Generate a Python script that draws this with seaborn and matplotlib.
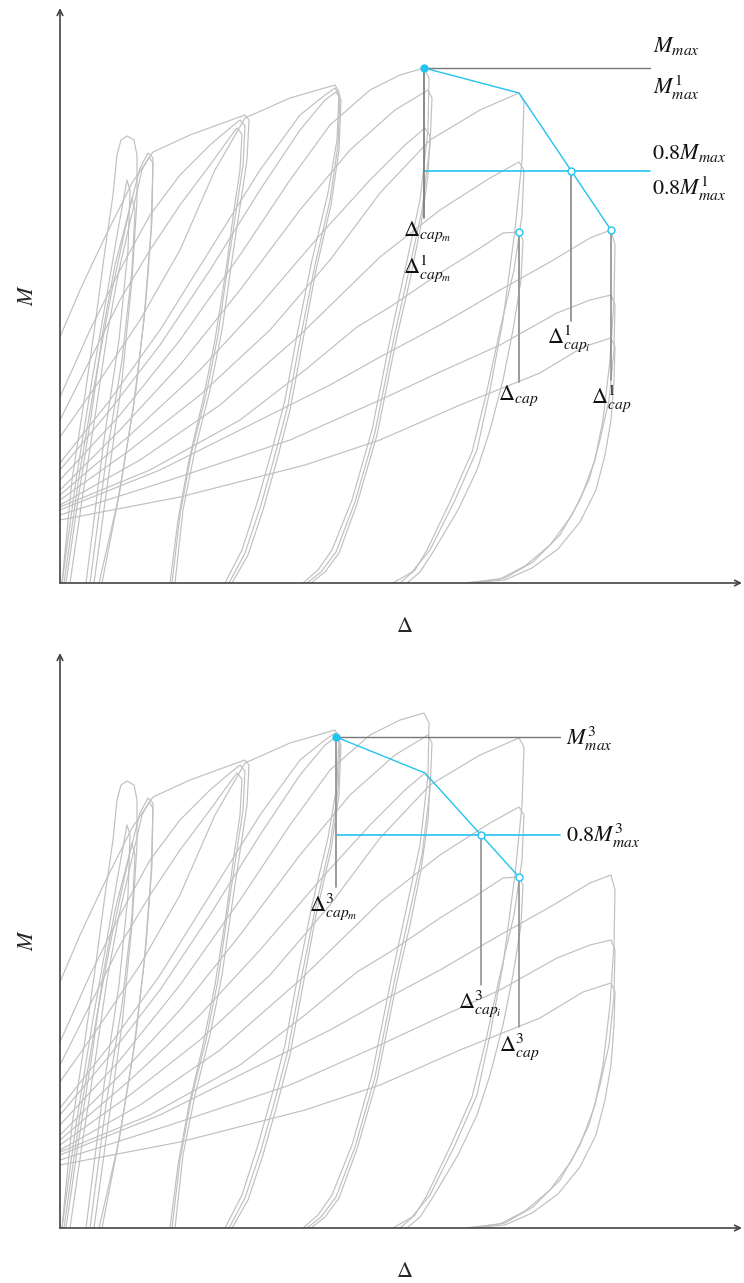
import pandas as pd
import seaborn as sns
import matplotlib.pyplot as plt

# hysteresis loops: (delta, M) pairs, reload branch then unload branch
loop_a1 = [(2, 0), (12, 103), (25, 188), (35, 258), (45, 333), (53, 388), (57, 428), (61, 443), (67, 447),
           (74, 443), (77, 428), (77, 383), (72, 303), (62, 203), (48, 103), (34, 0)]
loop_a2 = [(6, 0), (18, 83), (32, 173), (43, 253), (55, 318), (68, 368), (80, 415), (88, 430),
           (93, 425), (92, 363), (86, 283), (76, 193), (60, 93), (42, 0)]
loop_a3 = [(10, 0), (22, 83), (36, 173), (47, 248), (59, 313), (71, 365), (82, 413), (89, 426),
           (93, 420), (91, 353), (84, 263), (73, 173), (58, 83), (39, 0)]
loop_a4 = [(2, 0), (16, 103), (32, 203), (46, 283), (58, 353), (67, 403),
           (70, 393), (68, 333), (59, 243), (44, 143), (26, 0)]
loop_a5 = [(4, 0), (20, 113), (37, 213), (52, 293), (65, 353), (72, 385),
           (75, 373), (72, 313), (62, 223), (46, 123), (30, 0)]
loop_b1 = [(0, 246), (20, 293), (45, 346), (72, 400), (93, 431), (130, 448), (160, 459), (185, 468),
           (189, 463), (187, 423), (181, 383), (172, 323), (162, 253), (150, 193), (135, 133), (123, 73), (115, 0)]
loop_b2 = [(0, 186), (30, 253), (60, 313), (90, 368), (120, 408), (150, 438), (170, 455), (180, 463),
           (185, 457), (183, 418), (177, 378), (168, 318), (158, 248), (146, 188), (131, 128), (120, 68), (112, 0)]
loop_b3 = [(0, 163), (30, 223), (60, 283), (90, 333), (120, 378), (150, 418), (168, 443), (177, 455),
           (182, 449), (180, 413), (174, 373), (166, 313), (155, 243), (143, 183), (129, 123), (118, 63), (110, 0)]
loop_c1 = [(0, 146), (40, 203), (80, 263), (120, 333), (155, 413), (185, 465), (230, 485), (275, 498),
           (279, 491), (277, 443), (268, 390), (252, 323), (238, 253), (225, 183), (212, 133), (198, 83), (182, 33), (165, 0)]
loop_c2 = [(0, 120), (50, 183), (100, 253), (150, 333), (200, 413), (240, 468), (265, 488), (275, 495),
           (280, 487), (278, 438), (270, 383), (255, 318), (241, 248), (228, 178), (215, 128), (201, 78), (185, 30), (169, 0)]
loop_c3 = [(0, 113), (50, 173), (100, 238), (150, 313), (200, 393), (240, 453), (265, 483), (276, 491),
           (281, 483), (279, 433), (271, 378), (256, 313), (243, 243), (230, 173), (217, 123), (203, 73), (188, 28), (172, 0)]
loop_d1 = [(0, 103), (60, 168), (120, 243), (180, 328), (230, 403), (270, 458), (310, 493), (340, 508), (364, 515),
           (369, 505), (368, 453), (360, 383), (345, 313), (332, 253), (312, 153), (292, 83), (272, 33), (258, 13), (243, 0)]
loop_d2 = [(0, 93), (60, 153), (120, 218), (180, 293), (240, 373), (290, 433), (335, 473), (368, 493),
           (372, 485), (370, 438), (362, 373), (348, 308), (335, 250), (315, 151), (295, 81), (276, 31), (261, 11), (247, 0)]
loop_d3 = [(0, 88), (70, 148), (140, 213), (200, 278), (260, 348), (310, 403), (345, 438), (365, 455),
           (370, 447), (368, 408), (361, 358), (350, 303), (337, 247), (317, 148), (297, 79), (279, 30), (265, 11), (251, 0)]
loop_e1 = [(0, 83), (70, 133), (140, 188), (210, 253), (270, 323), (320, 390), (370, 443), (420, 473), (459, 490),
           (464, 481), (462, 423), (455, 353), (443, 263), (430, 193), (417, 133), (395, 83), (370, 33), (352, 11), (333, 0)]
loop_e2 = [(0, 78), (80, 123), (160, 178), (240, 248), (320, 326), (380, 373), (430, 405), (459, 421),
           (464, 413), (462, 368), (454, 313), (440, 253), (426, 188), (412, 131), (390, 81), (367, 33), (355, 13), (340, 0)]
loop_e3 = [(0, 76), (90, 113), (180, 163), (245, 213), (297, 256), (330, 276), (380, 310), (417, 333), (443, 350), (459, 351),
           (463, 343), (461, 303), (453, 253), (443, 203), (430, 153), (417, 113), (398, 73), (373, 31), (360, 11), (347, 0)]
loop_f1 = [(0, 73), (100, 113), (200, 163), (270, 198), (320, 226), (380, 258), (440, 293), (490, 321), (530, 345), (551, 353),
           (555, 338), (554, 283), (550, 223), (543, 163), (535, 123), (520, 83), (500, 48), (473, 21), (445, 5), (410, 0)]
loop_f2 = [(0, 68), (110, 103), (230, 143), (320, 183), (380, 211), (440, 238), (497, 270), (530, 283), (551, 288),
           (555, 278), (554, 233), (549, 183), (540, 143), (529, 103), (512, 68), (490, 38), (465, 17), (440, 4), (405, 0)]
loop_f3 = [(0, 63), (120, 86), (245, 118), (320, 143), (400, 178), (480, 210), (523, 236), (551, 245),
           (555, 236), (554, 203), (551, 163), (545, 128), (536, 93), (520, 61), (498, 34), (472, 15), (445, 3), (410, 0)]

loops = [loop_a1, loop_a2, loop_a3, loop_a4, loop_a5, loop_b1, loop_b2, loop_b3,
         loop_c1, loop_c2, loop_c3, loop_d1, loop_d2, loop_d3, loop_e1, loop_e2, loop_e3,
         loop_f1, loop_f2, loop_f3]

CYAN = "#22c3f0"
CURVE = "#c0c0c0"
FS = 16


def peak(loop):
    return max(loop, key=lambda p: p[1])


def crossing(env, level):
    for (x0, y0), (x1, y1) in zip(env[:-1], env[1:]):
        if (y0 - level) * (y1 - level) <= 0 and y0 != y1:
            t = (y0 - level) / (y0 - y1)
            return x0 + t * (x1 - x0)
    return env[-1][0]


def make_df():
    rows = []
    for i, loop in enumerate(loops):
        for j, (d, m) in enumerate(loop):
            rows.append({"cycle": i, "step": j, "delta": d, "M": m})
    return pd.DataFrame(rows)


def base_axes(fig, rect, df):
    ax = fig.add_axes(rect)
    sns.lineplot(data=df, x="delta", y="M", units="cycle", estimator=None, sort=False,
                 color=CURVE, linewidth=0.85, legend=False, ax=ax)
    for ln in ax.lines:
        ln.set_solid_joinstyle("round")
    ax.set_xlim(0, 682)
    ax.set_ylim(0, 575)
    ax.set_xticks([])
    ax.set_yticks([])
    ax.set_xlabel("")
    ax.set_ylabel("")
    for s in ax.spines.values():
        s.set_visible(False)
    arrow = dict(arrowstyle="->", color="#444444", lw=1.2, shrinkA=0, shrinkB=0)
    ax.annotate("", xy=(1.0, 0), xytext=(0, 0), xycoords="axes fraction", arrowprops=arrow)
    ax.annotate("", xy=(0, 1.0), xytext=(0, 0), xycoords="axes fraction", arrowprops=arrow)
    return ax


def label(ax, s, xy, off):
    ax.annotate(s, xy=xy, xytext=off, textcoords="offset pixels", ha="left", va="center",
                fontsize=FS, color="#111111")


def vline(ax, p, color="#9a9a9a", lw=1.4):
    ax.plot([p[0], p[0]], [p[1], p[1] - 150], color=color, lw=lw, zorder=3)


def main():
    sns.set_style("white")
    plt.rcParams["mathtext.fontset"] = "stix"
    plt.rcParams["font.family"] = ["STIXGeneral", "DejaVu Serif"]
    df = make_df()

    fig = plt.figure(figsize=(7.44, 12.83), dpi=100)

    # top panel: first-cycle envelope
    env1 = [peak(loop_d1), peak(loop_e1), peak(loop_f1)]
    cap = peak(loop_e3)
    ax1 = base_axes(fig, [60 / 744, 700 / 1283, 682 / 744, 575 / 1283], df)
    mmax = env1[0]
    m08 = 0.8 * mmax[1]
    x08 = crossing(env1, m08)
    ax1.plot([mmax[0], 590], [mmax[1], mmax[1]], color="#777777", lw=1.0, zorder=3)
    ax1.plot([mmax[0], 590], [m08, m08], color=CYAN, lw=1.2, zorder=3)
    vline(ax1, mmax, color="#777777", lw=1.2)
    vline(ax1, cap)
    vline(ax1, (x08, m08))
    vline(ax1, env1[-1], color="#888888", lw=1.1)
    ax1.plot([p[0] for p in env1], [p[1] for p in env1], color=CYAN, lw=1.0, zorder=4)
    ax1.plot(*mmax, "o", color=CYAN, ms=5, zorder=5)
    for p in [cap, (x08, m08), env1[-1]]:
        ax1.plot(*p, "o", mfc="white", mec=CYAN, mew=1.0, ms=5, zorder=5)
    label(ax1, r"$M_{max}$", (590, mmax[1]), (3, 22))
    label(ax1, r"$M^1_{max}$", (590, mmax[1]), (3, -20))
    label(ax1, r"$0.8M_{max}$", (590, m08), (2, 18))
    label(ax1, r"$0.8M^1_{max}$", (590, m08), (2, -18))
    label(ax1, r"$\Delta_{cap_m}$", (mmax[0], mmax[1] - 150), (-21, -14))
    label(ax1, r"$\Delta^1_{cap_m}$", (mmax[0], mmax[1] - 150), (-21, -50))
    label(ax1, r"$\Delta_{cap}$", (cap[0], cap[1] - 150), (-21, -14))
    label(ax1, r"$\Delta^1_{cap_i}$", (x08, m08 - 150), (-24, -18))
    label(ax1, r"$\Delta^1_{cap}$", (env1[-1][0], env1[-1][1] - 150), (-20, -18))

    # bottom panel: third-cycle envelope
    env3 = [peak(loop_c3), peak(loop_d3), peak(loop_e3)]
    ax2 = base_axes(fig, [60 / 744, 55 / 1283, 682 / 744, 575 / 1283], df)
    m3 = env3[0]
    m308 = 0.8 * m3[1]
    x308 = crossing(env3, m308)
    ax2.plot([m3[0], 500], [m3[1], m3[1]], color="#777777", lw=1.0, zorder=3)
    ax2.plot([m3[0], 500], [m308, m308], color=CYAN, lw=1.2, zorder=3)
    vline(ax2, m3)
    vline(ax2, (x308, m308), color="#888888", lw=1.1)
    vline(ax2, env3[-1], color="#888888", lw=1.1)
    ax2.plot([p[0] for p in env3], [p[1] for p in env3], color=CYAN, lw=1.0, zorder=4)
    ax2.plot(*m3, "o", color=CYAN, ms=5, zorder=5)
    for p in [(x308, m308), env3[-1]]:
        ax2.plot(*p, "o", mfc="white", mec=CYAN, mew=1.0, ms=5, zorder=5)
    label(ax2, r"$M^3_{max}$", (500, m3[1]), (6, -2))
    label(ax2, r"$0.8M^3_{max}$", (500, m308), (6, -1))
    label(ax2, r"$\Delta^3_{cap_m}$", (m3[0], m3[1] - 150), (-27, -20))
    label(ax2, r"$\Delta^3_{cap_i}$", (x308, m308 - 150), (-23, -18))
    label(ax2, r"$\Delta^3_{cap}$", (env3[-1][0], env3[-1][1] - 150), (-20, -20))

    for yc_m, yc_d in [(295, 627), (940, 1272)]:
        fig.text(28 / 744, 1 - yc_m / 1283, r"$M$", rotation=90, ha="center", va="center", fontsize=FS)
        fig.text(405 / 744, 1 - yc_d / 1283, r"$\Delta$", ha="center", va="center", fontsize=FS)

    fig.savefig("out.png", dpi=100)
    plt.close(fig)


if __name__ == "__main__":
    main()
